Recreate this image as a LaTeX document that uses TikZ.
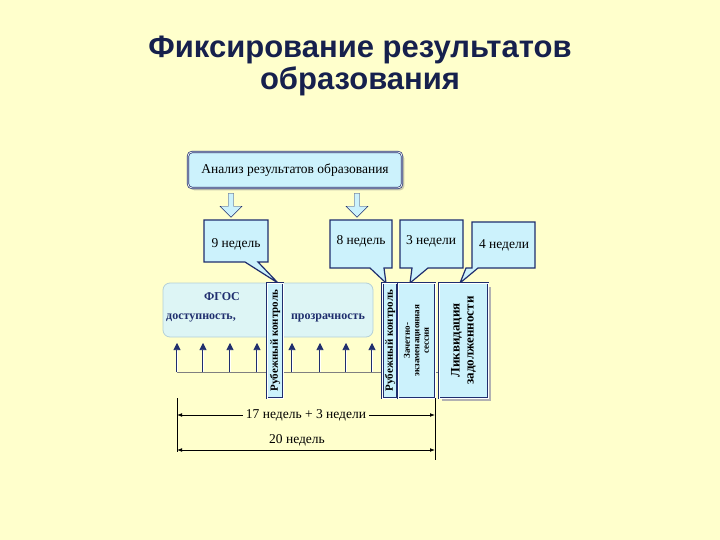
\documentclass[tikz,border=0pt]{standalone}
\usepackage{fontspec}
\setmainfont{Liberation Serif}
\newfontfamily\titlefont{Liberation Sans}
\usetikzlibrary{arrows.meta,shapes.arrows,shadows}
\definecolor{bg}{HTML}{FFFFCC}
\definecolor{nv}{HTML}{1F2E6E}
\definecolor{lb}{HTML}{CCF2FC}
\definecolor{vlb}{HTML}{DDF5F5}
\tikzset{
 box/.style={draw=nv,double=white,double distance=0.8pt,line width=0.7pt,fill=lb,font=\fontsize{13.5}{15}\selectfont},
 vbox/.style={box,rotate=90,inner sep=1pt,align=center},
 call/.style={draw=nv,line width=1.2pt,fill=lb},
 uarr/.style={-{Triangle[length=7pt,width=7pt]},nv,double=white,double distance=1pt,line width=0.6pt},
 dim/.style={{Latex[length=5pt]}-{Latex[length=5pt]},line width=0.8pt},
 txt/.style={font=\fontsize{13.5}{15}\selectfont}
}
\begin{document}
\begin{tikzpicture}[x=1pt,y=-1pt]
\fill[bg] (0,0) rectangle (720,540);
\useasboundingbox (0,0) rectangle (720,540);
\node[font=\titlefont\bfseries\fontsize{31}{32}\selectfont,text=nv!70!black,align=center] (title) at (360,66) {Фиксирование результатов\\образования};
% top box
\node[box,rounded corners=4pt,minimum width=214pt,minimum height=36pt,drop shadow={opacity=0.4}] (top) at (295,170) {Анализ результатов образования};
% block arrows
\node[single arrow,draw=nv,fill=lb,rotate=-90,minimum height=24pt,minimum width=22pt,single arrow head extend=4pt,inner sep=1pt] (a1) at (231,204) {};
\node[single arrow,draw=nv,fill=lb,rotate=-90,minimum height=24pt,minimum width=22pt,single arrow head extend=4pt,inner sep=1pt] (a2) at (357,204) {};
% callouts
\draw[call] (204,220) -- (268,220) -- (268,262) -- (258,262) -- (278,283) -- (245,262) -- (204,262) -- cycle;
\node[txt] (w9) at (236,244) {9 недель};
\draw[call] (330,220) -- (392,220) -- (392,268) -- (384,268) -- (386,283) -- (370,268) -- (330,268) -- cycle;
\node[txt] (w8) at (361,241) {8 недель};
\draw[call] (400,220) -- (463,220) -- (463,268) -- (428,268) -- (410,283) -- (412,268) -- (400,268) -- cycle;
\node[txt] (w3) at (431,241) {3 недели};
\draw[call] (472,222) -- (535,222) -- (535,268) -- (478,268) -- (460,283) -- (466,268)  -- (472,268) -- cycle;
\node[txt] (w4) at (504,245) {4 недели};
% FGOS
\draw[draw=lb!70!gray,fill=vlb,rounded corners=7pt,line width=0.8pt] (163,283) rectangle (373,337);
\node[font=\bfseries\fontsize{12}{13}\selectfont,text=nv] (fgos) at (222,297) {ФГОС};
\node[font=\bfseries\fontsize{12}{13}\selectfont,text=nv] (dost) at (201,318) {доступность,};
\node[font=\bfseries\fontsize{12}{13}\selectfont,text=nv] (proz) at (328,318) {прозрачность};
% baseline and arrows
\draw[gray,line width=0.6pt] (177,372) -- (440,372);
\foreach \x [count=\i] in {177,203,230,257,292,320,346,372}{
 \coordinate (b\i) at (\x,372); \coordinate (t\i) at (\x,343);
 \draw[uarr] (b\i) -- (t\i);}
% vertical boxes
\fill[gray!60] (442,287) rectangle (491,401);
\node[vbox,minimum width=115pt,minimum height=16pt,font=\bfseries\fontsize{11}{12}\selectfont] (rk1) at (275,340.5) {Рубежный контроль};
\node[vbox,minimum width=115pt,minimum height=15pt,font=\bfseries\fontsize{11}{12}\selectfont] (rk2) at (390,340.5) {Рубежный контроль};
\node[vbox,minimum width=115pt,minimum height=37pt,font=\bfseries\fontsize{9}{9.5}\selectfont] (zes) at (416.5,340.5) {Зачетно-\\экзаменационная\\сессия};
\node[vbox,minimum width=115pt,minimum height=49pt,font=\bfseries\fontsize{13}{14}\selectfont] (lz) at (463.5,340.5) {Ликвидация\\задолженности};
% dimensions
\coordinate (d1) at (177,398); \coordinate (d1b) at (177,452);
\coordinate (d2) at (435,398); \coordinate (d2b) at (435,460);
\draw[line width=0.8pt] (d1) -- (d1b);
\draw[line width=0.8pt] (d2) -- (d2b);
\draw[dim] (177,415) -- node[fill=bg,txt,inner sep=3pt] (l17) {17 недель + 3 недели} (435,415);
\draw[dim] (177,450) -- (435,450);
\node[txt] (l20) at (297,440) {20 недель};
\end{tikzpicture}
\end{document}
